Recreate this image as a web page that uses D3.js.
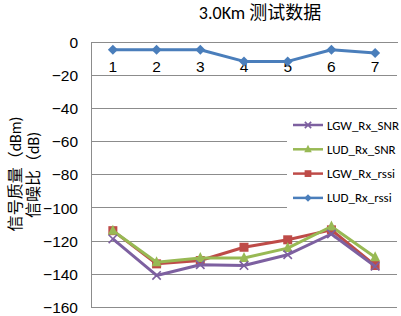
<!DOCTYPE html>
<html><head><meta charset="utf-8">
<script src="https://cdn.jsdelivr.net/npm/d3@7"></script>
<style>body{margin:0;background:#fff;}svg{display:block;font-family:Carlito,Calibri,"Noto Sans CJK SC",sans-serif;}</style>
</head><body><svg id="c" width="401" height="316"></svg>
<script>
const categories = ["1","2","3","4","5","6","7"];
const yTicks = [0,-20,-40,-60,-80,-100,-120,-140,-160];
const seriesNames = ["LUD_Rx_rssi","LGW_Rx_rssi","LUD_Rx_SNR","LGW_Rx_SNR"];
const LUD_Rx_rssi = [-5,-5,-5,-12,-12,-5,-7];
const LGW_Rx_rssi = [-114,-134,-132,-124,-119.5,-113.5,-135];
const LUD_Rx_SNR = [-114,-133,-130.5,-130.5,-124.5,-111.5,-130];
const LGW_Rx_SNR = [-119,-141,-134.5,-135,-128.5,-116,-135.5];
const colors = ["#4A7EBB","#BE4B48","#98B954","#7D60A0"];
const markers = ["diamond","square","triangle","x"];
const legendOrder = [3,2,1,0];
const titleText = "3.0Km 测试数据";
const yTitle = ["信号质量（dBm)","信噪比（dB)"];

const svg = d3.select("#c");
const L=91,R=397,T=41.5,B=307;
const x = d3.scaleBand().domain(categories).range([L,R]);
const y = d3.scaleLinear().domain([-160,0]).range([B,T]);

svg.append("text").attr("x",260).attr("y",19).attr("text-anchor","middle")
  .attr("font-size",18).attr("fill","#000").text(titleText);

// gridlines
const gridG = svg.append("g");
yTicks.forEach(t=>{
  gridG.append("line").attr("x1",L).attr("x2",R).attr("y1",Math.round(y(t))+0.5).attr("y2",Math.round(y(t))+0.5)
    .attr("stroke","#8c8c8c").attr("stroke-width",1);
});
const yAxis = svg.append("g").attr("transform",`translate(${L},0)`)
  .call(d3.axisLeft(y).tickValues(yTicks).tickSize(0).tickPadding(13).tickFormat(d3.format("d")));
yAxis.select(".domain").attr("stroke","#8c8c8c").attr("shape-rendering","crispEdges");
yAxis.selectAll("text").attr("font-size",15.5).attr("fill","#000").attr("dy","0.36em");

// x axis at 0
const xAxis = svg.append("g").attr("transform",`translate(0,${y(0)})`)
  .call(d3.axisBottom(x).tickSize(0));
xAxis.select(".domain").attr("stroke","#8c8c8c").attr("shape-rendering","crispEdges");
xAxis.selectAll("text").attr("font-size",15.5).attr("fill","#000").attr("y",30.5).attr("dy","0");

// y title
const yt = svg.append("g").attr("transform","translate(0,174) rotate(-90)");
yt.append("text").attr("x",0).attr("y",15).attr("dominant-baseline","central").attr("text-anchor","middle").attr("font-size",16).attr("fill","#000").text(yTitle[0]);
yt.append("text").attr("x",-1).attr("y",33).attr("dominant-baseline","central").attr("text-anchor","middle").attr("font-size",16).attr("fill","#000").text(yTitle[1]);

// legend background (covers gridlines)
svg.append("rect").attr("x",287).attr("y",109).attr("width",110).attr("height",104).attr("fill","#fff");

function marker(g,type,cx,cy,color,s){
  if(type==="diamond"){
    g.append("path").attr("d",`M${cx},${cy-s}L${cx+s},${cy}L${cx},${cy+s}L${cx-s},${cy}Z`).attr("fill",color);
  } else if(type==="square"){
    g.append("rect").attr("x",cx-s).attr("y",cy-s).attr("width",2*s).attr("height",2*s).attr("fill",color);
  } else if(type==="triangle"){
    g.append("path").attr("d",`M${cx},${cy-s*1.2}L${cx+s},${cy+s*0.8}L${cx-s},${cy+s*0.8}Z`).attr("fill",color);
  } else {
    g.append("path").attr("d",`M${cx-s},${cy-s}L${cx+s},${cy+s}M${cx-s},${cy+s}L${cx+s},${cy-s}`).attr("stroke",color).attr("stroke-width",1.6).attr("fill","none");
  }
}
const sizes = {diamond:5,square:4.5,triangle:5,x:4.2};

const allData = [LUD_Rx_rssi,LGW_Rx_rssi,LUD_Rx_SNR,LGW_Rx_SNR];
const line = d3.line().x((d,i)=>x(categories[i])+x.bandwidth()/2).y(d=>y(d));
allData.forEach((data,si)=>{
  const g = svg.append("g");
  g.append("path").attr("d",line(data)).attr("fill","none").attr("stroke",colors[si])
    .attr("stroke-width",3).attr("stroke-linejoin","round");
  data.forEach((v,i)=>marker(g,markers[si],x(categories[i])+x.bandwidth()/2,y(v),colors[si],sizes[markers[si]]));
});

// legend
legendOrder.forEach((si,k)=>{
  const ly = 125 + k*24.3;
  const g = svg.append("g");
  g.append("line").attr("x1",293).attr("x2",323).attr("y1",ly).attr("y2",ly).attr("stroke",colors[si]).attr("stroke-width",2.5);
  marker(g,markers[si],308,ly,colors[si],sizes[markers[si]]*0.75);
  g.append("text").attr("x",327).attr("y",ly+4.5).attr("font-size",13).attr("fill","#000").text(seriesNames[si]);
});
</script></body></html>
